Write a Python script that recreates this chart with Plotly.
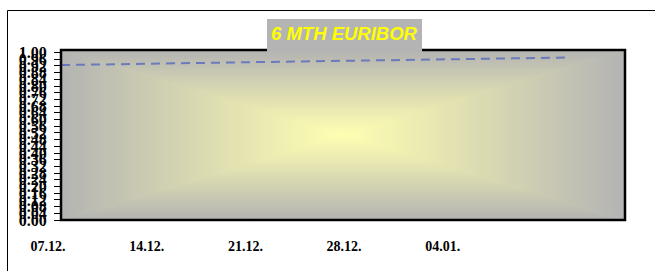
import base64
import plotly.graph_objects as go

# ---- data ----
dates = ["2009-12-07", "2009-12-08", "2009-12-09", "2009-12-10", "2009-12-11",
         "2009-12-14", "2009-12-15", "2009-12-16", "2009-12-17", "2009-12-18",
         "2009-12-21", "2009-12-22", "2009-12-23", "2009-12-24",
         "2009-12-28", "2009-12-29", "2009-12-30", "2009-12-31",
         "2010-01-04", "2010-01-05", "2010-01-06", "2010-01-07", "2010-01-08",
         "2010-01-11", "2010-01-12"]
euribor_6m = [0.925, 0.926, 0.927, 0.929, 0.930,
              0.934, 0.935, 0.936, 0.938, 0.939,
              0.943, 0.944, 0.945, 0.946,
              0.951, 0.953, 0.954, 0.955,
              0.960, 0.961, 0.963, 0.964, 0.965,
              0.969, 0.970]
x_tick_dates = ["2009-12-07", "2009-12-14", "2009-12-21", "2009-12-28", "2010-01-04"]
x_tick_labels = ["07.12.", "14.12.", "21.12.", "28.12.", "04.01."]
y_tick_values = [0.00, 0.04, 0.08, 0.12, 0.16, 0.20, 0.24, 0.28, 0.32, 0.36,
                 0.40, 0.44, 0.48, 0.52, 0.56, 0.60, 0.64, 0.68, 0.72, 0.76,
                 0.80, 0.84, 0.88, 0.92, 0.96, 1.00]
y_tick_labels = ["0.00", "0.04", "0.08", "0.12", "0.16", "0.20", "0.24", "0.28", "0.32", "0.36",
                 "0.40", "0.44", "0.48", "0.52", "0.56", "0.60", "0.64", "0.68", "0.72", "0.76",
                 "0.80", "0.84", "0.88", "0.92", "0.96", "1.00"]
title_text = "6 MTH EURIBOR"

# ---- layout geometry (pixels) ----
W, H = 655, 271
L, R, T, B = 61, 625, 50, 220
pw, ph = R - L, B - T


def px(x):
    return (x - L) / pw


def py(y):
    return (B - y) / ph


# rectangular "from center" gradient background for the plot area
edge, mid, center = "#B3B3B3", "#DADAB2", "#FFFFB2"
cx, cy = pw / 2, ph / 2


def stops():
    return (f'<stop offset="0" stop-color="{edge}"/>'
            f'<stop offset="0.5" stop-color="{mid}"/>'
            f'<stop offset="1" stop-color="{center}"/>')


svg = f'''<svg xmlns="http://www.w3.org/2000/svg" width="{pw}" height="{ph}" viewBox="0 0 {pw} {ph}" preserveAspectRatio="none">
<defs>
<linearGradient id="gt" gradientUnits="userSpaceOnUse" x1="0" y1="0" x2="0" y2="{cy}">{stops()}</linearGradient>
<linearGradient id="gb" gradientUnits="userSpaceOnUse" x1="0" y1="{ph}" x2="0" y2="{cy}">{stops()}</linearGradient>
<linearGradient id="gl" gradientUnits="userSpaceOnUse" x1="0" y1="0" x2="{cx}" y2="0">{stops()}</linearGradient>
<linearGradient id="gr" gradientUnits="userSpaceOnUse" x1="{pw}" y1="0" x2="{cx}" y2="0">{stops()}</linearGradient>
</defs>
<rect x="0" y="0" width="{pw}" height="{ph}" fill="#E0E0B8"/>
<polygon points="0,0 {pw},0 {cx},{cy}" fill="url(#gt)" stroke="url(#gt)" stroke-width="0.6"/>
<polygon points="0,{ph} {pw},{ph} {cx},{cy}" fill="url(#gb)" stroke="url(#gb)" stroke-width="0.6"/>
<polygon points="0,0 0,{ph} {cx},{cy}" fill="url(#gl)" stroke="url(#gl)" stroke-width="0.6"/>
<polygon points="{pw},0 {pw},{ph} {cx},{cy}" fill="url(#gr)" stroke="url(#gr)" stroke-width="0.6"/>
</svg>'''
svg_uri = "data:image/svg+xml;base64," + base64.b64encode(svg.encode()).decode()

fig = go.Figure()
fig.add_trace(go.Scatter(
    x=dates, y=euribor_6m, mode="lines",
    line=dict(color="rgba(85,105,190,0.8)", width=2, dash="9px,6px"),
    hoverinfo="skip", showlegend=False,
))

serif = "Liberation Serif, Times New Roman, serif"

fig.update_layout(
    width=W, height=H,
    margin=dict(l=L, r=W - R, t=T, b=H - B, pad=0),
    paper_bgcolor="white",
    plot_bgcolor="rgba(0,0,0,0)",
    showlegend=False,
    xaxis=dict(
        type="date", range=["2009-12-07", "2010-01-16"],
        tickmode="array", tickvals=x_tick_dates, ticktext=x_tick_labels,
        showgrid=False, zeroline=False, showline=False, ticks="",
        ticklabelshift=-13, ticklabelstandoff=16,
        tickfont=dict(family=serif, size=14, color="black", weight="bold"),
        fixedrange=True,
    ),
    yaxis=dict(
        range=[0, 1.015],
        tickmode="array", tickvals=y_tick_values, ticktext=y_tick_labels,
        showgrid=False, zeroline=False, showline=False,
        ticks="outside", ticklen=6, tickwidth=1, tickcolor="black",
        ticklabelstandoff=4,
        tickfont=dict(family=serif, size=16, color="black", weight="bold"),
        fixedrange=True,
    ),
    images=[dict(source=svg_uri, xref="paper", yref="paper", x=0, y=1,
                 sizex=1, sizey=1, xanchor="left", yanchor="top",
                 sizing="stretch", layer="below")],
    shapes=[
        # outer chart frame (left and top edges visible)
        dict(type="line", xref="paper", yref="paper",
             x0=px(7.5), x1=px(7.5), y0=py(10.5), y1=py(290),
             line=dict(color="black", width=1)),
        dict(type="line", xref="paper", yref="paper",
             x0=px(7.5), x1=px(680), y0=py(10.5), y1=py(10.5),
             line=dict(color="black", width=1)),
        # plot area border
        dict(type="rect", xref="paper", yref="paper", x0=0, x1=1, y0=0, y1=1,
             line=dict(color="black", width=2.5)),
        # title box
        dict(type="rect", xref="paper", yref="paper",
             x0=px(267), x1=px(422), y0=py(52), y1=py(19),
             fillcolor="#B4B4B4", line=dict(width=0)),
    ],
    annotations=[dict(
        text=title_text, xref="paper", yref="paper",
        x=px(344.5), y=py(34), xanchor="center", yanchor="middle",
        showarrow=False,
        font=dict(family="Liberation Sans, Arial, sans-serif", size=18.5,
                  color="#FFFF00", weight="bold", style="italic"),
    )],
)

fig.write_html("out.html",
               config={"displayModeBar": False, "staticPlot": True},
               post_script="document.body.style.margin='0px';document.body.style.padding='0px';")
